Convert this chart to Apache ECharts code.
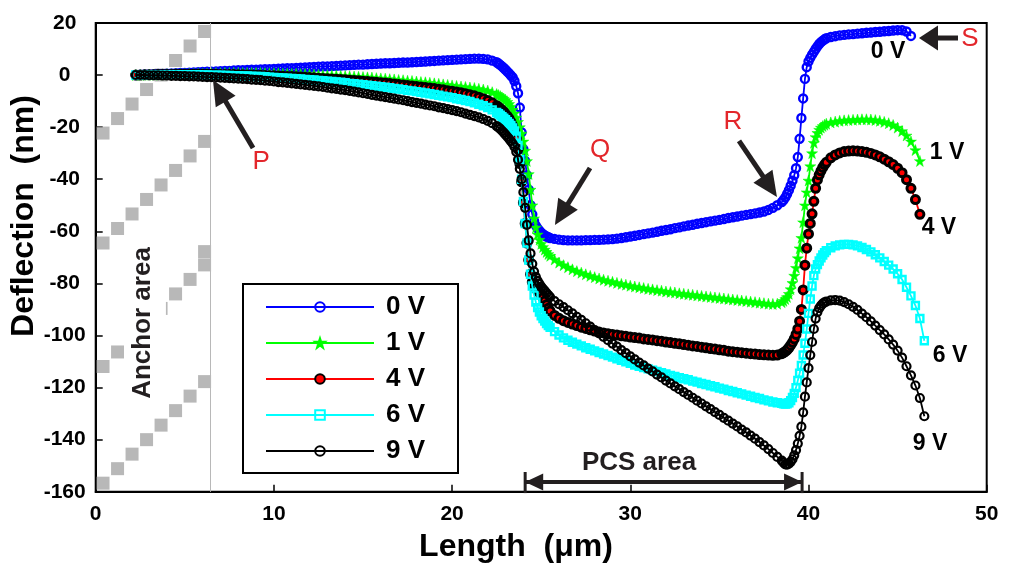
<!DOCTYPE html>
<html>
<head>
<meta charset="utf-8">
<script src="https://cdn.jsdelivr.net/npm/echarts@6/dist/echarts.min.js"></script>
<style>
html,body{margin:0;padding:0;background:#fff;}
#chart{width:1014px;height:565px;}
</style>
</head>
<body>
<div id="chart"></div>
<script>
// Sample positions along the beam (µm), shared by every bias curve
const lengthUm = [
  2.25,2.5,2.75,3,3.25,3.5,3.75,4,
  4.25,4.5,4.75,5,5.25,5.5,5.75,6,
  6.25,6.5,6.75,7,7.25,7.5,7.75,8,
  8.25,8.5,8.75,9,9.25,9.5,9.75,10,
  10.25,10.5,10.75,11,11.25,11.5,11.75,12,
  12.25,12.5,12.75,13,13.25,13.5,13.75,14,
  14.25,14.5,14.75,15,15.25,15.5,15.75,16,
  16.25,16.5,16.75,17,17.25,17.5,17.75,18,
  18.25,18.5,18.75,19,19.25,19.5,19.75,20,
  20.25,20.5,20.75,21,21.25,21.5,21.75,22,
  22.25,22.5,
  22.6,22.7,22.8,22.9,23,23.1,23.2,23.3,23.4,23.5,
  23.6,23.7,23.8,23.9,24,24.1,24.2,24.3,24.4,24.5,
  24.6,24.7,24.8,24.9,25,25.1,25.2,25.3,25.4,25.5,
  25.75,26,26.25,26.5,26.75,27,27.25,27.5,27.75,28,
  28.25,28.5,28.75,29,29.25,29.5,29.75,30,30.25,30.5,
  30.75,31,31.25,31.5,31.75,32,32.25,32.5,32.75,33,
  33.25,33.5,33.75,34,34.25,34.5,34.75,35,35.25,35.5,
  35.75,36,36.25,36.5,36.75,37,37.25,37.5,37.75,38,
  38.25,38.5,
  38.6,38.7,38.8,38.9,39,39.1,39.2,39.3,39.4,39.5,
  39.6,39.7,39.8,39.9,40,40.1,40.2,40.3,40.4,40.5,
  40.6,40.7,40.8,40.9,41,
  41.25,41.5,41.75,42,42.25,42.5,42.75,43,43.25,43.5,
  43.75,44,44.25,44.5,44.75,45,45.25,45.5,45.75,46,
  46.25,46.5
];

// Deflection (nm) at each sample position, one array per bias
const defl0V = [
  0.0,0.1,0.2,0.2,0.3,0.4,0.4,0.5,
  0.6,0.7,0.8,0.8,0.9,1.0,1.1,1.2,
  1.3,1.3,1.4,1.5,1.6,1.6,1.7,1.8,
  1.8,1.9,2.0,2.0,2.1,2.2,2.2,2.3,
  2.4,2.5,2.6,2.6,2.7,2.8,2.9,3.0,
  3.1,3.2,3.3,3.3,3.4,3.5,3.6,3.7,
  3.8,3.9,4.0,4.0,4.1,4.2,4.3,4.4,
  4.5,4.5,4.6,4.7,4.8,4.8,4.9,5.0,
  5.1,5.2,5.3,5.4,5.5,5.6,5.7,5.8,
  5.9,6.0,6.1,6.2,6.3,6.3,6.2,6.0,
  5.5,4.9,
  4.4,3.9,3.3,2.7,2.0,1.3,0.6,-0.2,-0.9,-2.3,
  -4.3,-7.0,-12.5,-22,-28.5,-33,-38.5,-44,-50,-53.5,
  -56,-57.8,-58.9,-59.8,-60.5,-61.1,-61.6,-62.0,-62.3,-62.6,
  -62.9,-63.2,-63.4,-63.5,-63.5,-63.5,-63.5,-63.4,-63.4,-63.3,
  -63.3,-63.2,-63.1,-63.0,-62.8,-62.6,-62.3,-62.0,-61.7,-61.4,
  -61.1,-60.8,-60.5,-60.2,-59.8,-59.5,-59.2,-58.8,-58.5,-58.1,
  -57.8,-57.5,-57.1,-56.8,-56.5,-56.2,-55.9,-55.6,-55.3,-54.9,
  -54.6,-54.3,-54.0,-53.7,-53.4,-53.1,-52.8,-52.4,-51.8,-51.0,
  -50.0,-48.8,
  -48.0,-47.0,-45.7,-44.2,-42.5,-40.6,-38.5,-35.8,-31.5,-24.5,
  -16.5,-9,-1.5,3.0,5.2,6.6,7.8,8.9,10.0,11.0,
  11.9,12.6,13.2,13.7,14.1,
  14.6,14.9,15.2,15.4,15.6,15.7,15.9,16.0,16.2,16.3,
  16.5,16.6,16.8,16.9,17.1,17.2,17.2,16.7,15.0,null,
  null,null
];

const defl1V = [
  0.0,0.0,0.1,0.1,0.1,0.2,0.2,0.3,
  0.3,0.4,0.4,0.4,0.5,0.5,0.6,0.6,
  0.6,0.7,0.7,0.7,0.8,0.8,0.8,0.8,
  0.8,0.8,0.8,0.8,0.8,0.7,0.7,0.7,
  0.7,0.6,0.6,0.5,0.5,0.4,0.4,0.3,
  0.2,0.1,0.0,-0.1,-0.1,-0.2,-0.3,-0.4,
  -0.5,-0.6,-0.7,-0.8,-0.9,-1.0,-1.2,-1.3,
  -1.4,-1.6,-1.7,-1.9,-2.0,-2.2,-2.3,-2.5,
  -2.7,-2.8,-3.0,-3.2,-3.4,-3.6,-3.8,-4.0,
  -4.2,-4.4,-4.6,-4.8,-5.0,-5.3,-5.6,-6.0,
  -6.6,-7.3,
  -7.7,-8.1,-8.6,-9.1,-9.6,-10.3,-11.1,-12.1,-13.3,-14.7,
  -16.3,-18.0,-20.0,-22.5,-25.5,-29,-33,-38,-44,-50,
  -55,-58.5,-61.2,-63.2,-64.8,-66.0,-67.0,-67.9,-68.7,-69.4,
  -70.8,-72.0,-73.0,-73.8,-74.6,-75.3,-75.9,-76.5,-77.1,-77.6,
  -78.1,-78.6,-79.0,-79.4,-79.8,-80.2,-80.5,-80.9,-81.2,-81.5,
  -81.8,-82.1,-82.3,-82.6,-82.8,-83.1,-83.3,-83.5,-83.8,-84.0,
  -84.2,-84.4,-84.6,-84.8,-85.0,-85.2,-85.4,-85.6,-85.8,-86.0,
  -86.2,-86.4,-86.6,-86.8,-87.0,-87.2,-87.4,-87.6,-87.8,-87.9,
  -87.8,-87.2,
  -86.7,-86.0,-85.2,-84.0,-82.2,-79.8,-77.0,-74.0,-70.3,-66.5,
  -62.5,-56.5,-50.0,-45.0,-40.5,-35.0,-30.0,-26.0,-23.8,-22.2,
  -21.0,-20.2,-19.6,-19.1,-18.7,
  -18.2,-17.9,-17.6,-17.4,-17.3,-17.2,-17.1,-17.0,-17.0,-17.1,
  -17.3,-17.6,-18.0,-18.5,-19.2,-20.2,-21.5,-23.2,-25.5,-28.8,
  -33.0,null
];

const defl4V = [
  0.0,0.0,0.1,0.1,0.1,0.2,0.2,0.2,
  0.2,0.3,0.3,0.3,0.3,0.3,0.3,0.3,
  0.3,0.3,0.3,0.2,0.2,0.2,0.2,0.1,
  0.1,0.0,0.0,-0.1,-0.1,-0.2,-0.3,-0.3,
  -0.4,-0.5,-0.6,-0.6,-0.7,-0.8,-0.9,-1.0,
  -1.1,-1.2,-1.3,-1.4,-1.5,-1.6,-1.7,-1.8,
  -2.0,-2.1,-2.2,-2.4,-2.5,-2.7,-2.8,-3.0,
  -3.1,-3.3,-3.5,-3.6,-3.8,-4.0,-4.2,-4.4,
  -4.6,-4.8,-5.0,-5.2,-5.5,-5.7,-6.0,-6.2,
  -6.5,-6.8,-7.2,-7.6,-8.0,-8.5,-9.1,-9.8,
  -10.7,-11.8,
  -12.3,-12.9,-13.5,-14.2,-15.0,-15.8,-16.8,-18.0,-19.5,-21.5,
  -24.5,-28.5,-34,-41,-49,-57,-64.5,-71,-76.5,-79.5,
  -81,-82,-82.8,-83.5,-84.3,-85.5,-86.8,-88.2,-89.5,-90.6,
  -92.3,-93.4,-94.3,-95.0,-95.6,-96.2,-96.8,-97.3,-97.8,-98.3,
  -98.7,-99.0,-99.3,-99.6,-99.8,-100.1,-100.3,-100.6,-100.8,-101.0,
  -101.3,-101.5,-101.7,-102.0,-102.2,-102.5,-102.7,-103.0,-103.2,-103.5,
  -103.7,-104.0,-104.2,-104.5,-104.7,-105.0,-105.2,-105.5,-105.7,-106.0,
  -106.2,-106.4,-106.6,-106.8,-107.0,-107.1,-107.3,-107.4,-107.5,-107.6,
  -107.5,-107.0,
  -106.6,-106.1,-105.5,-104.7,-103.7,-102.6,-101.3,-99.6,-97.5,-94.5,
  -90.0,-82.5,-73.0,-66.5,-61.0,-57.0,-53.3,-48.5,-43.5,-40.3,
  -38.3,-36.8,-35.5,-34.4,-33.5,
  -31.8,-30.7,-29.9,-29.4,-29.2,-29.1,-29.2,-29.4,-29.7,-30.1,
  -30.7,-31.4,-32.3,-33.3,-34.4,-35.8,-37.5,-40.2,-43.5,-47.8,
  -53.5,null
];

const defl6V = [
  0.0,0.0,0.0,0.1,0.1,0.1,0.1,0.1,
  0.1,0.1,0.1,0.1,0.1,0.1,0.1,0.0,
  0.0,-0.1,-0.1,-0.1,-0.2,-0.2,-0.3,-0.3,
  -0.4,-0.4,-0.5,-0.6,-0.6,-0.7,-0.8,-0.9,
  -1.0,-1.1,-1.2,-1.3,-1.4,-1.5,-1.7,-1.8,
  -1.9,-2.1,-2.2,-2.4,-2.5,-2.7,-2.8,-3.0,
  -3.2,-3.3,-3.5,-3.7,-3.9,-4.1,-4.3,-4.5,
  -4.7,-4.9,-5.2,-5.4,-5.6,-5.9,-6.1,-6.4,
  -6.6,-6.9,-7.2,-7.5,-7.8,-8.1,-8.4,-8.7,
  -9.1,-9.4,-9.8,-10.2,-10.7,-11.2,-11.8,-12.5,
  -13.4,-14.4,
  -14.9,-15.4,-16.0,-16.6,-17.2,-17.9,-18.6,-19.4,-20.3,-21.5,
  -23.5,-27,-32.5,-40,-48.5,-57,-64.5,-71,-76.5,-81,
  -84.5,-87.2,-89.3,-91.0,-92.4,-93.5,-94.5,-95.4,-96.2,-96.9,
  -98.5,-99.8,-100.9,-101.8,-102.6,-103.3,-104.0,-104.7,-105.3,-105.9,
  -106.5,-107.1,-107.7,-108.3,-108.9,-109.5,-110.1,-110.7,-111.3,-111.8,
  -112.3,-112.8,-113.3,-113.8,-114.3,-114.8,-115.3,-115.7,-116.2,-116.6,
  -117.0,-117.5,-117.9,-118.4,-118.8,-119.3,-119.7,-120.2,-120.6,-121.1,
  -121.5,-122.0,-122.4,-122.9,-123.3,-123.8,-124.2,-124.7,-125.1,-125.5,
  -125.8,-126.0,
  -126.2,-126.3,-126.2,-125.8,-125.0,-123.8,-122.2,-120.0,-117.3,-114.5,
  -111.5,-107.5,-103.0,-97.5,-91.5,-86.0,-81.0,-77.0,-74.5,-72.8,
  -71.4,-70.2,-69.1,-68.2,-67.4,
  -66.3,-65.6,-65.2,-65.0,-65.0,-65.2,-65.6,-66.2,-67.0,-67.9,
  -69.0,-70.2,-71.6,-73.0,-74.5,-76.3,-78.5,-81.5,-84.8,-88.5,
  -93.5,-102.0
];

const defl9V = [
  0.0,0.0,0.0,-0.1,-0.1,-0.1,-0.2,-0.2,
  -0.3,-0.3,-0.4,-0.4,-0.5,-0.5,-0.6,-0.7,
  -0.8,-0.8,-0.9,-1.0,-1.1,-1.2,-1.3,-1.4,
  -1.5,-1.6,-1.8,-1.9,-2.0,-2.2,-2.3,-2.5,
  -2.7,-2.8,-3.0,-3.2,-3.4,-3.6,-3.8,-4.0,
  -4.2,-4.4,-4.6,-4.9,-5.1,-5.3,-5.6,-5.8,
  -6.1,-6.4,-6.7,-7.0,-7.3,-7.6,-7.9,-8.2,
  -8.5,-8.8,-9.1,-9.4,-9.7,-10.0,-10.4,-10.7,
  -11.0,-11.4,-11.7,-12.0,-12.4,-12.7,-13.1,-13.5,
  -13.9,-14.3,-14.8,-15.3,-15.8,-16.3,-16.9,-17.6,
  -18.5,-19.6,
  -20.1,-20.7,-21.4,-22.1,-22.9,-23.7,-24.5,-25.4,-26.3,-27.5,
  -29.5,-32.5,-36,-40,-45,-51,-57.5,-63.5,-68.5,-72.5,
  -75.5,-77.5,-79.0,-80.2,-81.2,-82.1,-82.9,-83.7,-84.5,-85.3,
  -86.8,-88.0,-89.1,-90.3,-91.5,-92.8,-94.0,-95.3,-96.6,-97.9,
  -99.2,-100.5,-101.8,-103.1,-104.3,-105.6,-106.8,-108.0,-109.2,-110.4,
  -111.5,-112.7,-113.8,-115.0,-116.1,-117.3,-118.4,-119.5,-120.6,-121.7,
  -122.8,-123.9,-125.0,-126.1,-127.2,-128.3,-129.4,-130.5,-131.6,-132.7,
  -133.8,-134.9,-136.1,-137.2,-138.4,-139.6,-140.9,-142.2,-143.6,-145.1,
  -146.6,-148.0,
  -148.8,-149.5,-149.6,-149.2,-148.5,-147.5,-146.0,-144.0,-141.5,-138.5,
  -135.0,-129.5,-123.5,-118.0,-112.5,-107.5,-102.5,-97.5,-93.5,-91.0,
  -89.5,-88.5,-87.8,-87.3,-87.0,
  -86.5,-86.4,-86.6,-87.2,-88.0,-89.0,-90.2,-91.6,-93.0,-94.6,
  -96.2,-97.9,-99.6,-101.5,-103.5,-105.8,-108.5,-111.8,-115.3,-119.2,
  -124.0,-131.0
];

const seriesNames = ['0 V', '1 V', '4 V', '6 V', '9 V'];

// Anchor hatch: each staircase is described by the centre of its top square (µm, nm)
const anchorStairTops = [[6.11, 16.7], [6.11, -25.5], [6.11, -72.9], [6.11, -117.7]];
const anchorLoneSquares = [[6.11, -67.8]];
const anchorEdgeUm = 6.45;

const FONT = '"Liberation Sans", Arial, Helvetica, sans-serif';
const INK = '#231f20';
const NOTE_RED = '#e3262b';
const STAR = 'path://M50,0 L61.8,35.1 L98.9,35.1 L68.9,56.9 L80.3,92 L50,70.3 L19.7,92 L31.1,56.9 L1.1,35.1 L38.2,35.1 Z';

function toPairs(ys) {
  const out = [];
  for (let i = 0; i < lengthUm.length; i++) {
    if (ys[i] !== null && ys[i] !== undefined) out.push([lengthUm[i], ys[i]]);
  }
  return out;
}

function anchorSquares() {
  const pts = [];
  const stepX = 0.814, stepY = 5.57;
  anchorStairTops.forEach(t => {
    for (let k = 0; k < 8; k++) pts.push([t[0] - k * stepX, t[1] - k * stepY]);
  });
  anchorLoneSquares.forEach(p => pts.push(p));
  return pts;
}

function curve(name, ys, symbol, size, lineColor, fill, border, borderW, z) {
  return {
    name: name, type: 'line', data: toPairs(ys),
    symbol: symbol, symbolSize: size, showSymbol: true,
    lineStyle: { color: lineColor, width: 1.8 },
    itemStyle: { color: fill, borderColor: border, borderWidth: borderW },
    emphasis: { disabled: true }, z: z, animation: false
  };
}

const chart = echarts.init(document.getElementById('chart'), null, { renderer: 'canvas' });

const option = {
  animation: false,
  backgroundColor: '#fff',
  grid: { left: 95.7, top: 22.9, width: 891, height: 468.9, show: true, borderColor: '#000', borderWidth: 2, backgroundColor: 'transparent' },
  xAxis: {
    type: 'value', min: 0, max: 50, interval: 10,
    axisLine: { onZero: false, lineStyle: { color: '#000', width: 2 } },
    axisTick: { inside: true, length: 7, lineStyle: { color: '#000', width: 1.5 } },
    axisLabel: { color: '#000', fontFamily: FONT, fontWeight: 'bold', fontSize: 21, margin: 12 },
    splitLine: { show: false }
  },
  yAxis: {
    type: 'value', min: -160, max: 20, interval: 20,
    axisLine: { onZero: false, lineStyle: { color: '#000', width: 2 } },
    axisTick: { inside: true, length: 7, lineStyle: { color: '#000', width: 1.5 } },
    axisLabel: { color: '#000', fontFamily: FONT, fontWeight: 'bold', fontSize: 21, margin: 31, align: 'center' },
    splitLine: { show: false }
  },
  legend: {
    data: seriesNames, orient: 'vertical', left: 265, top: 294,
    itemWidth: 108, itemHeight: 12, itemGap: 10, padding: 0, selectedMode: false,
    textStyle: { color: '#000', fontFamily: FONT, fontWeight: 'bold', fontSize: 26, lineHeight: 26, padding: [0, 0, 0, 7] }
  },
  series: [
    {
      name: 'anchor', type: 'scatter', data: anchorSquares(), symbol: 'rect', symbolSize: 13,
      itemStyle: { color: '#a6a6a6' }, silent: true, z: 1, animation: false,
      markLine: {
        silent: true, symbol: ['none', 'none'], label: { show: false },
        lineStyle: { color: '#b8b8b8', width: 1, type: 'solid' },
        data: [{ xAxis: anchorEdgeUm }]
      }
    },
    curve('0 V', defl0V, 'circle', 8, '#0000ff', 'rgba(255,255,255,0)', '#0000ff', 2.4, 3),
    curve('1 V', defl1V, STAR, 11, '#00ff00', '#00ff00', '#00ff00', 0.5, 4),
    curve('4 V', defl4V, 'circle', 8, '#ff0000', '#ff0000', '#000000', 3, 5),
    curve('6 V', defl6V, 'rect', 7, '#00ffff', 'rgba(255,255,255,0)', '#00ffff', 2.4, 6),
    curve('9 V', defl9V, 'circle', 8, '#000000', 'rgba(255,255,255,0)', '#000000', 2.2, 7)
  ]
};

chart.setOption(option);

// ---- annotations, placed in data coordinates ----
const P = (x, y) => chart.convertToPixel({ gridIndex: 0 }, [x, y]);

function arrow(tail, tip, shaftW, headL, headW, color) {
  const dx = tip[0] - tail[0], dy = tip[1] - tail[1];
  const len = Math.hypot(dx, dy), ux = dx / len, uy = dy / len;
  const bx = tip[0] - ux * headL, by = tip[1] - uy * headL;
  const nx = -uy, ny = ux;
  return [
    { type: 'line', z: 20, shape: { x1: tail[0], y1: tail[1], x2: bx + ux * 2, y2: by + uy * 2 }, style: { stroke: color, lineWidth: shaftW } },
    { type: 'polygon', z: 20, shape: { points: [tip, [bx + nx * headW / 2, by + ny * headW / 2], [bx - nx * headW / 2, by - ny * headW / 2]] }, style: { fill: color } }
  ];
}

function label(text, at, font, color, rotation) {
  return {
    type: 'text', z: 21, x: at[0], y: at[1], rotation: rotation || 0,
    style: { text: text, x: 0, y: 0, font: font, fill: color, textAlign: 'center', textVerticalAlign: 'middle' }
  };
}

const g = [];
// legend frame
g.push({ type: 'rect', z: 3, shape: { x: 243, y: 284, width: 215, height: 189 }, style: { fill: '#fff', stroke: '#000', lineWidth: 2 } });

// anchor-area caption with a white backing
const a1 = P(1.59, -63.3), a2 = P(3.94, -127.1);
g.push({ type: 'rect', z: 10, shape: { x: a1[0], y: a1[1], width: a2[0] - a1[0], height: a2[1] - a1[1] }, style: { fill: '#fff' } });
g.push(label('Anchor area', P(2.65, -95.2), 'bold 26px ' + FONT, INK, Math.PI / 2));

// P, Q, R, S pointers
arrow(P(8.83, -28.0), P(6.58, -1.9), 5, 25, 23, INK).forEach(e => g.push(e));
g.push(label('P', P(9.28, -33.4), '26px ' + FONT, NOTE_RED));
arrow(P(27.74, -35.7), P(25.77, -57.6), 5, 25, 23, INK).forEach(e => g.push(e));
g.push(label('Q', P(28.30, -28.8), '26px ' + FONT, NOTE_RED));
arrow(P(36.10, -25.3), P(38.23, -46.8), 5, 25, 23, INK).forEach(e => g.push(e));
g.push(label('R', P(35.76, -18.0), '26px ' + FONT, NOTE_RED));
arrow(P(48.39, 14.2), P(46.20, 14.2), 5, 19, 25, INK).forEach(e => g.push(e));
g.push(label('S', P(49.06, 13.8), '26px ' + FONT, NOTE_RED));

// PCS span
const pcsL = P(24.10, -156.2), pcsR = P(39.64, -156.2);
arrow(pcsR, pcsL, 4, 18, 17, INK).forEach(e => g.push(e));
arrow(pcsL, pcsR, 4, 18, 17, INK).forEach(e => g.push(e));
[24.10, 39.64].forEach(xu => {
  const t = P(xu, -152.4), b = P(xu, -160.5);
  g.push({ type: 'line', z: 20, shape: { x1: t[0], y1: t[1], x2: b[0], y2: b[1] }, style: { stroke: INK, lineWidth: 3 } });
});
g.push(label('PCS area', P(30.49, -148.9), 'bold 26px ' + FONT, INK));

// bias labels at the curve ends
g.push(label('0 V', P(44.46, 8.8), 'bold 23px ' + FONT, '#000'));
g.push(label('1 V', P(47.77, -29.9), 'bold 23px ' + FONT, '#000'));
g.push(label('4 V', P(47.32, -58.7), 'bold 23px ' + FONT, '#000'));
g.push(label('6 V', P(47.94, -107.9), 'bold 23px ' + FONT, '#000'));
g.push(label('9 V', P(46.82, -141.7), 'bold 23px ' + FONT, '#000'));

// axis titles
g.push(label('Length  (\u03bcm)', [516, 547], 'bold 32px ' + FONT, '#000'));
g.push(label('Deflection  (nm)', [24, 216], 'bold 32px ' + FONT, '#000', Math.PI / 2));

chart.setOption({ graphic: { elements: g } });
</script>
</body>
</html>
